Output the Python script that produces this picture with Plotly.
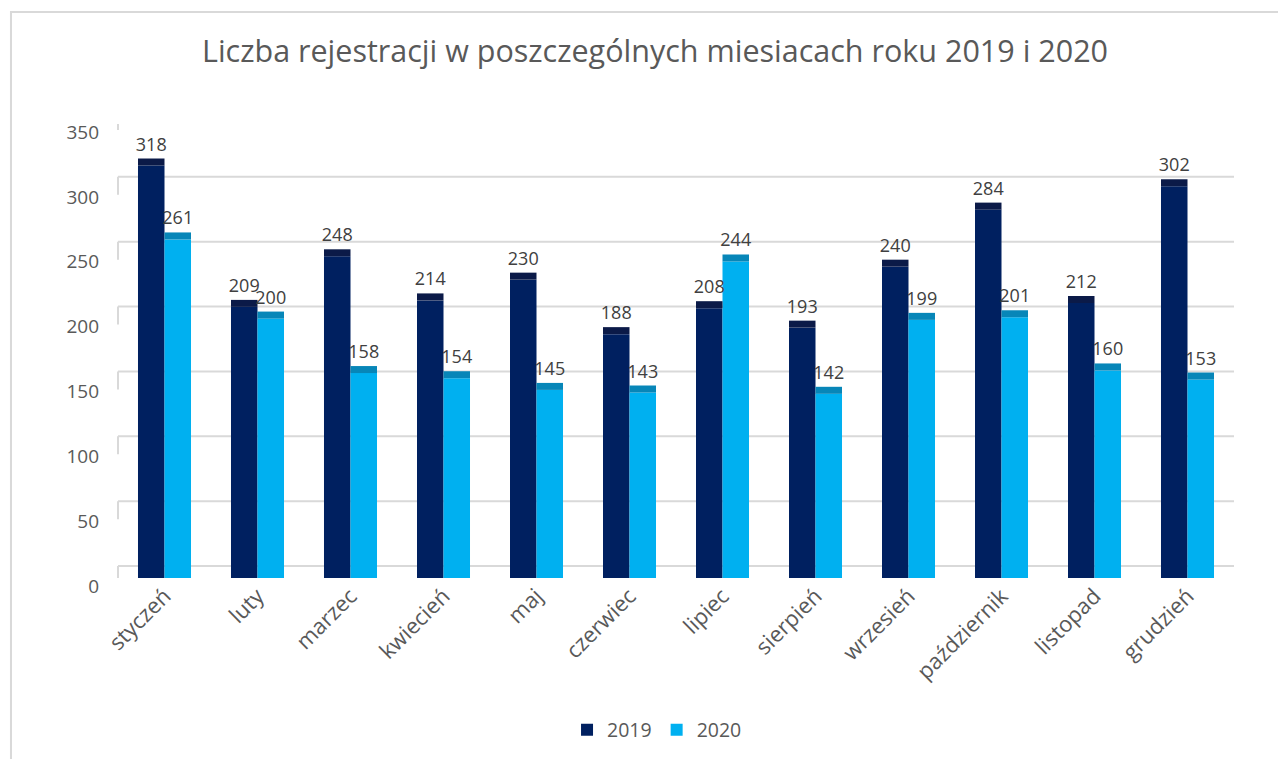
import plotly.graph_objects as go

months = ["styczeń", "luty", "marzec", "kwiecień", "maj", "czerwiec", "lipiec",
          "sierpień", "wrzesień", "październik", "listopad", "grudzień"]
y2019 = [318, 209, 248, 214, 230, 188, 208, 193, 240, 284, 212, 302]
y2020 = [261, 200, 158, 154, 145, 143, 244, 142, 199, 201, 160, 153]
yticks = [0, 50, 100, 150, 200, 250, 300, 350]

title = "Liczba rejestracji w poszczególnych miesiacach roku 2019 i 2020"

C19, C20 = "#002060", "#00B0F0"
C19_TOP, C20_TOP = "#0b1a48", "#0786b8"
CAP = 5.4  # depth of the 3D top face in data units
FONT = "Open Sans"
LABEL_FONT = dict(size=18, color="#404040", family=FONT)

fig = go.Figure()
fig.add_bar(x=months, y=y2019, name="2019", marker_color=C19, offsetgroup="a",
            marker_line_width=0)
fig.add_bar(x=months, y=y2020, name="2020", marker_color=C20, offsetgroup="b",
            marker_line_width=0)
fig.add_bar(x=months, y=[CAP] * len(months), base=y2019, marker_color=C19_TOP,
            offsetgroup="a", showlegend=False, marker_line_width=0,
            text=[str(v) for v in y2019], textposition="outside",
            constraintext="none", textfont=LABEL_FONT, cliponaxis=False,
            hoverinfo="skip")
fig.add_bar(x=months, y=[CAP] * len(months), base=y2020, marker_color=C20_TOP,
            offsetgroup="b", showlegend=False, marker_line_width=0,
            text=[str(v) for v in y2020], textposition="outside",
            constraintext="none", textfont=LABEL_FONT, cliponaxis=False,
            hoverinfo="skip")

shapes = []
for v in yticks:
    shapes.append(dict(type="line", xref="paper", x0=0, x1=1, yref="y",
                       ysizemode="pixel", yanchor=v, y0=12, y1=12,
                       line=dict(color="#d9d9d9", width=2), layer="below"))
    shapes.append(dict(type="line", xref="paper", x0=0, x1=0, yref="y",
                       ysizemode="pixel", yanchor=v, y0=12, y1=-6,
                       line=dict(color="#d9d9d9", width=2), layer="below"))
shapes.append(dict(type="rect", xref="paper", yref="paper",
                   x0=-0.0959, x1=1.06, y0=-0.37, y1=1.1796,
                   line=dict(color="#d9d9d9", width=2), layer="below"))

# page body has an 8px default margin: compensate in the layout margins
fig.update_layout(
    width=1286, height=759,
    margin=dict(l=110, r=60, t=92, b=177),
    paper_bgcolor="white", plot_bgcolor="white",
    barmode="group", bargap=0.43, bargroupgap=0,
    title=dict(text=title, x=647 / 1286, xanchor="center", y=1 - 43 / 759,
               yanchor="middle", font=dict(family=FONT, size=30.5, color="#595959"),
               automargin=False),
    font=dict(family=FONT, color="#595959"),
    shapes=shapes,
    legend=dict(orientation="h", x=0.483, xanchor="center", y=-0.286,
                yanchor="middle", font=dict(size=19.5, color="#595959"),
                itemwidth=30, traceorder="normal"),
    showlegend=True,
)
fig.update_xaxes(showgrid=False, showline=False, zeroline=False, tickangle=-45,
                 tickfont=dict(size=22, color="#595959"), ticks="", automargin=False)
fig.update_yaxes(range=[0, 350], domain=[12 / 490, 466 / 490], showgrid=False,
                 zeroline=False, showline=False, tickvals=yticks, ticks="",
                 ticklabelstandoff=18, ticklabelshift=8, automargin=False,
                 tickfont=dict(size=19, color="#595959"))

fig.write_html("out.html")
